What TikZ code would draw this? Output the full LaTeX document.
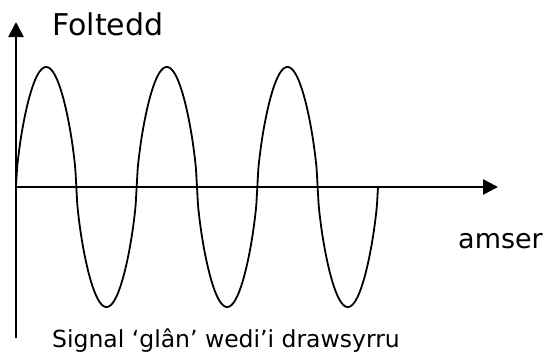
\documentclass[tikz,border=0pt]{standalone}
\usepackage{fontspec}
\setmainfont{DejaVu Sans}
\usetikzlibrary{arrows.meta}
\tikzset{
  axis/.style={
    line width=2.6pt,
    -{Triangle[length=15pt,width=15pt]}
  },
  wave/.style={
    line width=1.8pt
  }
}

\begin{document}
\begin{tikzpicture}[x=1pt,y=1pt]
\useasboundingbox (-16,-167) rectangle (531,187);

%%%%%%%%% axes
  \coordinate (O) at (0,0);
  \coordinate (ybot) at (0,-151);
  \coordinate (ytop) at (0,165);
  \coordinate (xend) at (482,0);
  \draw[axis] (ybot) -- (ytop);
  \draw[axis] (O) -- (xend);

%%%%%%%%% signal, three cycles (narrow lobes)
  \draw[wave] plot[domain=0:1080, samples=361, smooth]
      ({\x/180*60.33}, {120*sin(\x)*pow(abs(sin(\x))+0.00001,-0.35)});

%%%%%%%%% labels
  \node[anchor=base west, inner sep=0, font=\fontsize{30}{36}\selectfont]
      (foltedd) at (36,152) {Foltedd};
  \node[anchor=base west, inner sep=0, font=\fontsize{27}{32}\selectfont]
      (amser) at (442,-61) {amser};
  \node[anchor=base west, inner sep=0, font=\fontsize{23.5}{28}\selectfont]
      (signal) at (36,-160) {Signal ‘glân’ wedi’i drawsyrru};

\end{tikzpicture}
\end{document}
